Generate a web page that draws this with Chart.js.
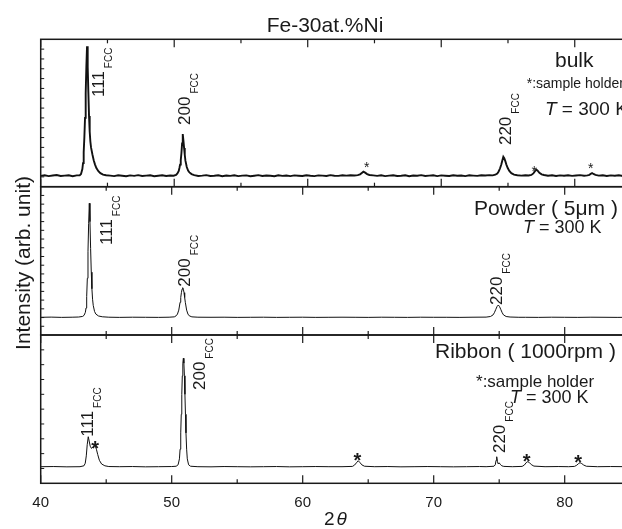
<!DOCTYPE html>
<html>
<head>
<meta charset="utf-8">
<script src="https://cdn.jsdelivr.net/npm/chart.js@4/dist/chart.umd.min.js"></script>
<style>
  html, body { margin: 0; padding: 0; background: #fff; overflow: hidden; }
  #fig { position: relative; width: 622px; height: 529px; overflow: hidden; background: #fff; }
  #fig canvas { position: absolute; left: 0; top: 0; }
</style>
</head>
<body>
<div id="fig">
  <canvas id="bulk" width="660" height="529"></canvas>
  <canvas id="powder" width="660" height="529"></canvas>
  <canvas id="ribbon" width="660" height="529"></canvas>
</div>
<script>
// XRD scans of Fe-30at.%Ni: [2theta (deg), intensity (arb. unit)]
const bulkScan = [
  [40.0,11.0],[40.3,11.6],[40.6,10.8],[40.9,11.4],[41.2,11.9],[41.5,10.9],[41.8,11.3],[42.1,11.7],[42.4,10.7],[42.7,11.5],
  [42.92,11.6],[43.02,13],[43.12,18],[43.17,24],[43.22,35],[43.27,50],[43.32,70],[43.37,95],[43.42,122],[43.47,143],
  [43.52,122],[43.57,96],[43.62,72],[43.67,56],[43.72,46],[43.77,40],[43.87,33],[43.97,27],[44.07,22.5],[44.17,19],
  [44.32,15.8],[44.47,13.8],[44.67,12.3],[44.9,11.6],
  [45.2,11.3],[45.5,10.8],[45.8,11.6],[46.1,11.1],[46.4,10.6],[46.7,11.5],[47.0,11.0],[47.3,11.8],[47.6,10.9],[47.9,11.3],
  [48.2,11.6],[48.5,10.7],[48.8,11.2],[49.1,11.7],[49.4,10.9],[49.7,11.4],[49.95,11.2],
  [50.14,12],[50.24,13.5],[50.34,16],[50.39,19],[50.44,22.5],[50.49,27],[50.54,34],[50.59,44],[50.64,53.6],[50.69,47],
  [50.74,39.5],[50.79,32.5],[50.84,26.5],[50.94,20],[51.04,16.5],[51.14,14.5],[51.3,12.8],[51.5,11.8],
  [51.8,10.9],[52.1,11.3],[52.4,11.8],[52.7,10.9],[53.0,11.2],[53.3,11.6],[53.6,10.7],[53.9,11.4],[54.2,11.0],
  [54.5,11.7],[54.8,10.8],[55.1,11.3],[55.4,11.5],[55.7,10.6],[56.0,11.2],[56.3,11.8],[56.6,10.9],[56.9,11.4],[57.2,11.1],
  [57.5,10.7],[57.8,11.6],[58.1,11.0],[58.4,11.4],[58.7,10.8],[59.0,11.5],[59.3,11.2],[59.6,10.9],[59.9,11.7],[60.2,11.1],
  [60.5,10.8],[60.8,11.5],[61.1,11.3],[61.4,10.9],[61.7,11.8],[62.0,11.2],[62.3,11.0],[62.6,11.6],[62.9,11.3],[63.2,11.7],[63.5,11.4],
  [63.75,11.8],[63.92,12.6],[64.05,14],[64.17,15.3],[64.3,14.3],[64.45,12.8],[64.62,11.9],
  [64.9,11.5],[65.2,11.0],[65.5,11.6],[65.8,10.8],[66.1,11.3],[66.4,11.7],[66.7,10.9],[67.0,11.2],[67.3,11.6],[67.6,10.7],
  [67.9,11.4],[68.2,11.1],[68.5,11.8],[68.8,10.9],[69.1,11.3],[69.4,11.6],[69.7,10.8],[70.0,11.5],[70.3,11.2],[70.6,10.9],
  [70.9,11.7],[71.2,11.1],[71.5,11.4],[71.8,10.8],[72.1,11.6],[72.4,11.3],[72.7,11.0],[73.0,11.7],[73.3,11.4],[73.6,11.8],[73.85,11.5],
  [74.05,12.2],[74.2,13.5],[74.3,15.5],[74.4,18.5],[74.5,22.5],[74.58,27],[74.65,30.5],[74.72,29],[74.8,26],[74.88,22.5],
  [74.98,19],[75.1,16],[75.25,13.8],[75.45,12.3],[75.7,11.7],
  [76.0,11.3],[76.3,11.7],[76.55,11.4],
  [76.75,12],[76.9,13.5],[77.02,15.8],[77.12,17.5],[77.22,16.3],[77.35,14.2],[77.52,12.6],[77.7,11.9],
  [78.0,11.2],[78.3,11.6],[78.6,10.9],[78.9,11.5],[79.2,11.1],[79.5,11.7],[79.8,11.0],[80.1,11.4],[80.4,11.8],[80.7,11.2],[80.95,11.5],
  [81.1,12.1],[81.2,13.1],[81.3,13.9],[81.4,13],[81.55,12],
  [81.8,11.3],[82.1,11.7],[82.4,10.9],[82.7,11.5],[83.0,11.2],[83.3,11.6],[83.6,10.9],[83.9,11.4],[84.2,11.1],[84.5,11.6],[84.8,11.0],[85.0,11.3]
];

const powderScan = [
  [40.0,20.3],[40.8,20.5],[41.6,20.2],[42.4,20.4],[42.9,20.6],[43.2,21.3],[43.31,22.5],[43.41,26],[43.46,31],[43.51,44],
  [43.56,65],[43.61,96],[43.66,128],[43.71,151],[43.76,130],[43.81,99],[43.86,72],[43.91,53],[43.96,41],[44.01,34],
  [44.11,27],[44.21,24],[44.41,21.8],[44.7,20.9],[45.2,20.4],
  [46.0,20.2],[47.0,20.4],[48.0,20.3],[49.0,20.2],[49.8,20.4],[50.2,20.8],[50.34,22],[50.44,24],[50.54,28.5],[50.64,37.5],
  [50.69,43],[50.74,48.5],[50.79,52.5],[50.84,54.2],[50.89,52.5],[50.94,48.5],[50.99,43],[51.04,37.5],[51.14,28.5],
  [51.24,24],[51.34,22],[51.54,20.8],[52.0,20.4],[53.0,20.3],[54.0,20.4],[55.0,20.2],
  [56.0,20.3],[57.0,20.4],[58.0,20.2],[59.0,20.3],[60.0,20.4],[61.0,20.2],[62.0,20.3],[63.0,20.4],[64.0,20.3],[65.0,20.2],
  [66.0,20.4],[67.0,20.3],[68.0,20.2],[69.0,20.4],[70.0,20.3],[71.0,20.3],[72.0,20.2],[73.0,20.4],[74.0,20.5],[74.33,21.2],
  [74.53,23],[74.63,25.5],[74.73,29],[74.83,32.5],[74.93,34.4],[75.03,32.5],[75.13,29],[75.23,25.5],[75.33,23],
  [75.53,21.2],[75.83,20.6],[76.5,20.3],[77.0,20.3],
  [78.0,20.2],[79.0,20.4],[80.0,20.3],[81.0,20.2],[82.0,20.4],[83.0,20.3],[84.0,20.2],[85.0,20.3]
];

const ribbonScan = [
  [40.0,11.2],[41.0,11.3],[42.0,11.1],[43.0,11.2],[43.3,11.8],[43.4,13.5],[43.48,18.5],[43.55,26],[43.63,31.4],[43.7,28.5],
  [43.78,25],[43.88,23.5],[43.98,24.5],[44.08,25.3],[44.15,25.5],[44.25,23],[44.35,19.5],[44.48,15.5],[44.65,13],[44.9,11.8],
  [45.2,11.3],[46.0,11.2],[47.0,11.3],[48.0,11.1],[49.0,11.2],[50.0,11.3],[50.34,11.5],[50.49,12.5],[50.59,16.5],
  [50.64,23],[50.69,34],[50.73,46.5],[50.77,60],[50.81,72.5],[50.85,81],[50.89,84.3],[50.93,81],[50.97,72.5],[51.01,60],
  [51.05,46.5],[51.09,34],[51.14,23],[51.19,16.5],[51.29,12.5],[51.44,11.5],[52.0,11.2],[53.0,11.1],[54.0,11.3],[55.0,11.2],
  [56.0,11.1],[57.0,11.2],[58.0,11.3],[59.0,11.1],[60.0,11.2],[61.0,11.3],[62.0,11.2],[63.0,11.2],[63.8,11.4],[63.96,12.3],
  [64.1,13.8],[64.24,15.2],[64.38,13.9],[64.52,12.4],[64.72,11.5],[65.5,11.2],[66.5,11.3],[67.5,11.1],[68.5,11.2],[69.5,11.3],
  [70.5,11.2],[71.5,11.1],[72.5,11.2],[73.5,11.3],[74.0,11.2],[74.6,11.5],[74.7,12.5],[74.76,15.5],[74.81,17.9],[74.87,14.5],
  [74.93,13],[75.0,13.8],[75.08,12.8],[75.2,11.8],[75.35,11.4],[76.0,11.2],[76.75,11.4],[76.92,12.3],[77.06,13.9],[77.18,14.6],
  [77.3,14],[77.45,12.6],[77.65,11.6],[78.5,11.2],[79.5,11.3],[80.3,11.2],[80.75,11.4],[80.92,12.2],[81.06,13.3],[81.17,13.9],
  [81.3,13.3],[81.45,12.3],[81.65,11.5],[82.5,11.2],[83.5,11.3],[85.0,11.2]
];

// Reflection labels: [hkl, 2theta of text baseline, intensity at text start]
const bulkIndex   = [['111', 44.74, 91.3], ['200', 51.18, 62.8], ['220', 75.21, 42.4]];
const powderIndex = [['111', 45.42, 103.2], ['200', 51.40, 55.4], ['220', 75.19, 34.4]];
const ribbonIndex = [['111', 43.99, 31.4], ['200', 52.54, 62.9], ['220', 75.44, 20.4]];

// Sample-holder reflections marked with '*': [2theta, intensity]
const bulkHolder   = [[64.42, 23.1], [76.97, 19.0], [81.20, 22.1]];
const ribbonHolder = [[44.15, 27.2], [64.17, 19.1], [77.10, 18.4], [81.02, 17.7]];

// Panel captions: [text, 2theta, intensity]
const bulkNotes = {
  name: ['bulk', 78.52, 122.1],
  holder: ['*:sample holder', 76.40, 100.4],
  temp: ['300 K', 77.77, 73.0]
};
const powderNotes = {
  name: ['Powder ( 5\u03bcm )', 73.07, 137.6],
  temp: ['300 K', 76.81, 116.9]
};
const ribbonNotes = {
  name: ['Ribbon ( 1000rpm )', 70.10, 84.3],
  holder: ['*:sample holder', 73.23, 65.1],
  temp: ['300 K', 75.82, 53.9]
};

const FONT = '"Liberation Sans", Arial, Helvetica, sans-serif';
const INK = '#1a1a1a';

function toPoints(scan) {
  return scan.map(([a, c]) => ({ x: a, y: c }));
}

function panelDecor(spec) {
  return {
    id: 'panelDecor',
    afterDatasetsDraw(chart) {
      const { ctx, chartArea: a, scales: { x, y } } = chart;
      const line = (x1, y1, x2, y2) => { ctx.beginPath(); ctx.moveTo(x1, y1); ctx.lineTo(x2, y2); ctx.stroke(); };
      ctx.save();
      ctx.strokeStyle = INK;
      ctx.fillStyle = INK;
      // frame
      ctx.lineWidth = 1.5;
      ctx.strokeRect(a.left, a.top, a.right - a.left, a.bottom - a.top);
      // inward 2theta ticks on upper and lower edges
      ctx.lineWidth = 1.2;
      for (let v = x.min; v <= x.max + 1e-9; v += 5) {
        const px = x.getPixelForValue(v);
        const len = (Math.round(v) % 10 === 0) ? 8 : 4;
        line(px, a.top, px, a.top + len);
        line(px, a.bottom, px, a.bottom - len);
      }
      // inward intensity ticks on the left edge
      ctx.lineWidth = 1;
      for (let v = y.min + spec.yStep; v < y.max - 1e-9; v += spec.yStep) {
        const py = y.getPixelForValue(v);
        line(a.left, py, a.left + 3.5, py);
      }
      // reflection indices, rotated
      ctx.textAlign = 'left';
      ctx.textBaseline = 'alphabetic';
      spec.index.forEach(([hkl, at, h]) => {
        const px = x.getPixelForValue(at);
        const py = y.getPixelForValue(h);
        ctx.save();
        ctx.translate(px, py);
        ctx.rotate(-Math.PI / 2);
        ctx.font = `17px ${FONT}`;
        ctx.fillText(hkl, 0, 0);
        const w = ctx.measureText(hkl).width;
        ctx.font = `10px ${FONT}`;
        ctx.fillText('FCC', w + 3, 8);
        ctx.restore();
      });
      // sample-holder marks
      ctx.textAlign = 'center';
      (spec.holder || []).forEach(([at, h]) => {
        const px = x.getPixelForValue(at);
        const py = y.getPixelForValue(h);
        ctx.font = `${spec.starWeight} ${spec.starSize}px ${FONT}`;
        ctx.fillText('*', px, py + spec.starSize * 0.58);
      });
      // captions
      ctx.textAlign = 'left';
      const n = spec.notes;
      if (n.name) {
        ctx.font = `21px ${FONT}`;
        ctx.fillText(n.name[0], x.getPixelForValue(n.name[1]), y.getPixelForValue(n.name[2]));
      }
      if (n.holder) {
        ctx.font = `${spec.holderSize}px ${FONT}`;
        ctx.fillText(n.holder[0], x.getPixelForValue(n.holder[1]), y.getPixelForValue(n.holder[2]));
      }
      if (n.temp) {
        const px = x.getPixelForValue(n.temp[1]);
        const py = y.getPixelForValue(n.temp[2]);
        ctx.font = `italic ${spec.tempSize}px ${FONT}`;
        ctx.fillText('T', px, py);
        const tw = ctx.measureText('T').width;
        ctx.font = `${spec.tempSize}px ${FONT}`;
        ctx.fillText(' = ' + n.temp[0], px + tw, py);
      }
      ctx.restore();
    }
  };
}

const figureText = {
  id: 'figureText',
  afterDraw(chart) {
    const { ctx, chartArea: a } = chart;
    ctx.save();
    ctx.fillStyle = INK;
    // title
    ctx.font = `21px ${FONT}`;
    ctx.textAlign = 'center';
    ctx.textBaseline = 'alphabetic';
    ctx.fillText('Fe-30at.%Ni', 325, 31.5);
    // intensity axis title
    ctx.save();
    ctx.translate(30, 263);
    ctx.rotate(-Math.PI / 2);
    ctx.font = `21px ${FONT}`;
    ctx.fillText('Intensity (arb. unit)', 0, 0);
    ctx.restore();
    // 2theta axis title
    const cx = (a.left + a.right) / 2;
    ctx.textAlign = 'left';
    ctx.font = `19px ${FONT}`;
    const w2 = ctx.measureText('2').width;
    ctx.font = `italic 19px ${FONT}`;
    const wt = ctx.measureText('\u03b8').width;
    const x0 = cx - (w2 + 2 + wt) / 2;
    ctx.font = `19px ${FONT}`;
    ctx.fillText('2', x0, 525);
    ctx.font = `italic 19px ${FONT}`;
    ctx.fillText('\u03b8', x0 + w2 + 2, 525);
    ctx.restore();
  }
};

function makePanel(id, scan, yMax, yStep, padding, width, decor, extra) {
  const showX = !!extra.showX;
  const xScale = {
    type: 'linear', min: 40, max: 85, display: showX,
    grid: { display: false, drawTicks: false },
    border: { display: false },
    ticks: {
      stepSize: 5, autoSkip: false, maxRotation: 0, padding: 11, color: INK,
      font: { family: FONT, size: 15 },
      callback: v => (Math.round(v) % 10 === 0 ? String(v) : '')
    }
  };
  if (showX) xScale.afterFit = s => { s.height = 45.7; };
  return new Chart(document.getElementById(id), {
    type: 'line',
    data: {
      datasets: [{
        data: toPoints(scan),
        borderColor: '#111',
        borderWidth: width,
        pointRadius: 0,
        tension: 0,
        fill: false
      }]
    },
    options: {
      responsive: false,
      animation: false,
      events: [],
      layout: { padding },
      plugins: { legend: { display: false }, tooltip: { enabled: false }, title: { display: false } },
      scales: {
        x: xScale,
        y: { type: 'linear', min: 0, max: yMax, display: false }
      }
    },
    plugins: [panelDecor(Object.assign({ yStep }, decor))].concat(extra.plugins || [])
  });
}

makePanel('bulk', bulkScan, 150, 10,
  { left: 40.7, top: 39.3, right: 18.5, bottom: 342.3 }, 1.9,
  { index: bulkIndex, holder: bulkHolder, notes: bulkNotes, starSize: 14, starWeight: 'normal', holderSize: 14, tempSize: 19 },
  {});

makePanel('powder', powderScan, 170, 10,
  { left: 40.7, top: 186.7, right: 29.8, bottom: 194 }, 1,
  { index: powderIndex, holder: [], notes: powderNotes, starSize: 14, starWeight: 'normal', holderSize: 14, tempSize: 18 },
  {});

makePanel('ribbon', ribbonScan, 100, 10,
  { left: 40.7, top: 335, right: 29.8, bottom: 0 }, 1,
  { index: ribbonIndex, holder: ribbonHolder, notes: ribbonNotes, starSize: 20, starWeight: 'bold', holderSize: 17, tempSize: 18 },
  { showX: true, plugins: [figureText] });
</script>
</body>
</html>
